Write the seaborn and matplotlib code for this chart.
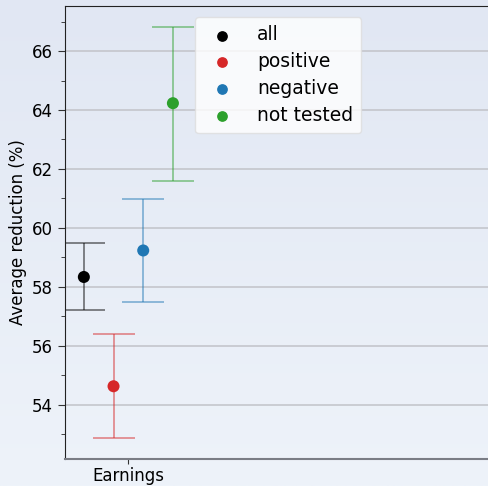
import numpy as np
import pandas as pd
import matplotlib
matplotlib.use("Agg")
import matplotlib.pyplot as plt
import seaborn as sns
from matplotlib.ticker import MultipleLocator

groups = ["all", "positive", "negative", "not tested"]
colors = ["black", "#d62728", "#1f77b4", "#2ca02c"]
means = [58.33, 54.62, 59.23, 64.23]
lower = [57.20, 52.85, 57.47, 61.60]
upper = [59.47, 56.38, 60.98, 66.82]
offsets = [-0.3, -0.1, 0.1, 0.3]
category = "Earnings"

sns.set_style("ticks")
plt.rcParams['font.family'] = ['DejaVu Sans']
plt.rcParams['text.color'] = 'black'

fig = plt.figure(figsize=(4.89, 4.86), dpi=100)

# gradient background
bg = fig.add_axes([0, 0, 1, 1], zorder=-10)
grad = np.linspace(0, 1, 256).reshape(-1, 1)
top = np.array([225, 231, 243]) / 255
bot = np.array([238, 243, 250]) / 255
img = top[None, None, :] * (1 - grad[:, :, None]) + bot[None, None, :] * grad[:, :, None]
bg.imshow(img, aspect="auto", extent=[0, 1, 0, 1])
bg.axis("off")

ax = fig.add_axes([65 / 489, 1 - 459 / 486, (495 - 65) / 489, (459 - 6) / 486])
ax.set_facecolor("none")

df = pd.DataFrame({"group": groups, "x": offsets, "mean": means})
for i, g in enumerate(groups):
    ax.errorbar(offsets[i], means[i],
                yerr=[[means[i] - lower[i]], [upper[i] - means[i]]],
                fmt="none", ecolor=colors[i], alpha=0.5, elinewidth=1.3,
                capsize=15, capthick=1.3, zorder=2)
sns.scatterplot(data=df, x="x", y="mean", hue="group", palette=colors,
                s=75, edgecolor="none", ax=ax, zorder=3, legend=False)

for i, g in enumerate(groups):
    ax.scatter([], [], color=colors[i], s=45, label=g)

ax.set_xlim(-0.427, 2.47)
ax.set_ylim(52.15, 67.53)
ax.set_xticks([0])
ax.set_xticklabels([category])
ax.yaxis.set_major_locator(MultipleLocator(2))
ax.yaxis.set_minor_locator(MultipleLocator(1))
ax.tick_params(axis="both", labelsize=12, length=5, color="#333333", labelcolor="black")
ax.tick_params(axis="x", length=3.5, pad=2)
ax.tick_params(axis="y", which="minor", length=3)
ax.set_xlabel("")
ax.set_ylabel("Average reduction (%)", fontsize=12, color="black")
ax.grid(axis="y", color="#c4c6cc", linewidth=1.2)
ax.set_axisbelow(True)
ax.spines["left"].set_color("#222222")
ax.spines["top"].set_color("#222222")
ax.spines["bottom"].set_color("#7a7d85")
ax.spines["bottom"].set_linewidth(1.5)

leg = ax.legend(loc="upper left", bbox_to_anchor=(195 / 489, 1 - 17 / 486),
                bbox_transform=fig.transFigure, fontsize=13.5, frameon=True,
                framealpha=0.8, handletextpad=0.85, borderpad=0.45,
                labelspacing=0.42, borderaxespad=0)
for t in leg.get_texts():
    t.set_color("black")
leg.get_frame().set_facecolor("white")
leg.get_frame().set_edgecolor("#dddddd")

fig.savefig("out.png", dpi=100)
